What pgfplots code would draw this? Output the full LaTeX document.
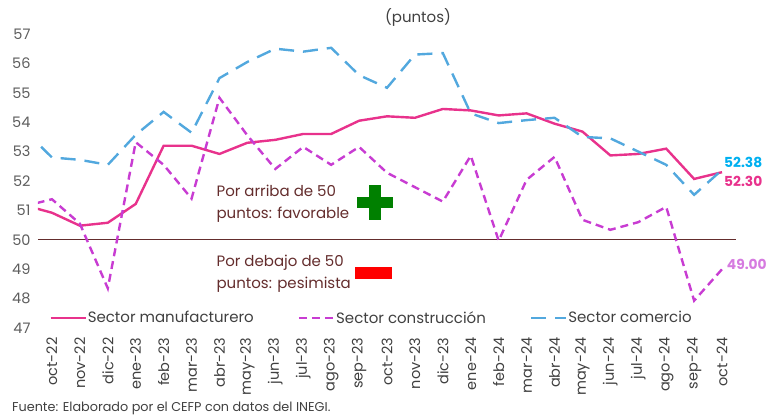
\documentclass[border=0pt]{standalone}
\usepackage{fontspec}
\setmainfont{Poppins}
\usepackage{pgfplots}
\usepackage{pgfplotstable}
\pgfplotsset{compat=1.18}
\definecolor{Manuf}{RGB}{232,50,140}
\definecolor{Constr}{RGB}{200,60,210}
\definecolor{Comer}{RGB}{82,168,222}
\definecolor{Cyan}{RGB}{0,176,240}
\definecolor{Violet}{RGB}{214,123,224}
\definecolor{Brown}{RGB}{100,45,45}
\definecolor{Ink}{RGB}{64,64,64}

% i = 0 is oct-22; i = -1 (sep-22) only shows at the clipped left edge
\pgfplotstableread{
i  man   con   com
-1 51.18 51.14 53.74
0  50.92 51.38 52.80
1  50.48 50.55 52.72
2  50.58 48.35 52.55
3  51.22 53.32 53.57
4  53.20 52.55 54.35
5  53.20 51.40 53.64
6  52.92 54.83 55.50
7  53.30 53.55 56.05
8  53.40 52.41 56.50
9  53.60 53.16 56.40
10 53.60 52.55 56.53
11 54.05 53.16 55.60
12 54.20 52.28 55.17
13 54.15 51.79 56.30
14 54.45 51.30 56.35
15 54.40 52.86 54.30
16 54.23 49.97 53.97
17 54.30 52.04 54.07
18 53.95 52.82 54.15
19 53.68 50.68 53.50
20 52.87 50.34 53.45
21 52.92 50.60 53.00
22 53.10 51.12 52.55
23 52.07 47.93 51.53
24 52.30 49.00 52.38
}\datos

\begin{document}
\begin{tikzpicture}
\begin{axis}[
    scale only axis,
    width=698pt, height=294pt,
    xmin=-0.5, xmax=24.5, ymin=47, ymax=57,
    axis line style={draw=none},
    tick style={draw=none},
    clip mode=individual,
    xtick={0,...,24},
    xticklabels={oct-22,nov-22,dic-22,ene-23,feb-23,mar-23,abr-23,may-23,jun-23,jul-23,ago-23,sep-23,
                 oct-23,nov-23,dic-23,ene-24,feb-24,mar-24,abr-24,may-24,jun-24,jul-24,ago-24,sep-24,oct-24},
    xticklabel style={rotate=90, anchor=east, font=\fontsize{14.5}{16}\selectfont, color=Ink},
    xticklabel shift=6pt,
    ytick={47,...,57},
    yticklabel style={font=\fontsize{14.5}{16}\selectfont, color=Ink!85},
    yticklabel shift=4pt,
    /pgf/number format/assume math mode=true,
    legend style={at={(0.016,0.034)}, anchor=west, draw=none, fill=none, inner sep=0pt,
                  nodes={inner sep=1pt},
                  legend columns=-1, font=\fontsize{15}{17}\selectfont, text=Ink,
                  /tikz/every even column/.append style={column sep=43pt},
                  /tikz/every odd column/.append style={column sep=0pt}},
    legend image code/.code={\draw[#1, line width=2.4pt] (0pt,0pt) -- (35pt,0pt);},
]
\addplot[Brown, line width=0.9pt, forget plot] coordinates {(-0.5,50) (24.5,50)};
\addplot[Manuf, line width=2.4pt] table[x=i, y=man] {\datos};
\addplot[Constr, line width=2.4pt, dash pattern=on 8pt off 5pt] table[x=i, y=con] {\datos};
\addplot[Comer, line width=2.4pt, dash pattern=on 15pt off 9pt] table[x=i, y=com] {\datos};
\legend{Sector manufacturero, Sector construcción, Sector comercio}

\node[anchor=west, align=left, text=Brown, font=\fontsize{15}{22}\selectfont] at (axis cs:5.77,51.22)
    {Por arriba de 50\\puntos: favorable};
\node[anchor=west, align=left, text=Brown, font=\fontsize{15}{22}\selectfont] at (axis cs:5.77,48.84)
    {Por debajo de 50\\puntos: pesimista};
\fill[green!50!black] (axis cs:10.93,51.07) rectangle (axis cs:12.22,51.45);
\fill[green!50!black] (axis cs:11.37,50.66) rectangle (axis cs:11.79,51.87);
\fill[red] (axis cs:10.86,48.67) rectangle (axis cs:12.19,49.08);

\node[anchor=west, text=Cyan, font=\fontsize{13.8}{16}\selectfont\bfseries, inner sep=0pt] at (axis cs:24.07,52.62) {52.38};
\node[anchor=west, text=Manuf, font=\fontsize{13.8}{16}\selectfont\bfseries, inner sep=0pt] at (axis cs:24.07,52.00) {52.30};
\node[anchor=west, text=Violet, font=\fontsize{13.8}{16}\selectfont\bfseries, inner sep=0pt] at (axis cs:24.17,49.15) {49.00};
\end{axis}
\node[text=Ink, font=\fontsize{15}{17}\selectfont] at (380pt,311pt) {(puntos)};
\node[anchor=west, text=Ink, font=\fontsize{12.8}{14}\selectfont, inner sep=0pt] at (-26pt,-80pt)
    {Fuente: Elaborado por el CEFP con datos del INEGI.};
\pgfresetboundingbox
\path[use as bounding box] (-38pt,-89pt) rectangle (730pt,328pt);
\end{tikzpicture}
\end{document}
